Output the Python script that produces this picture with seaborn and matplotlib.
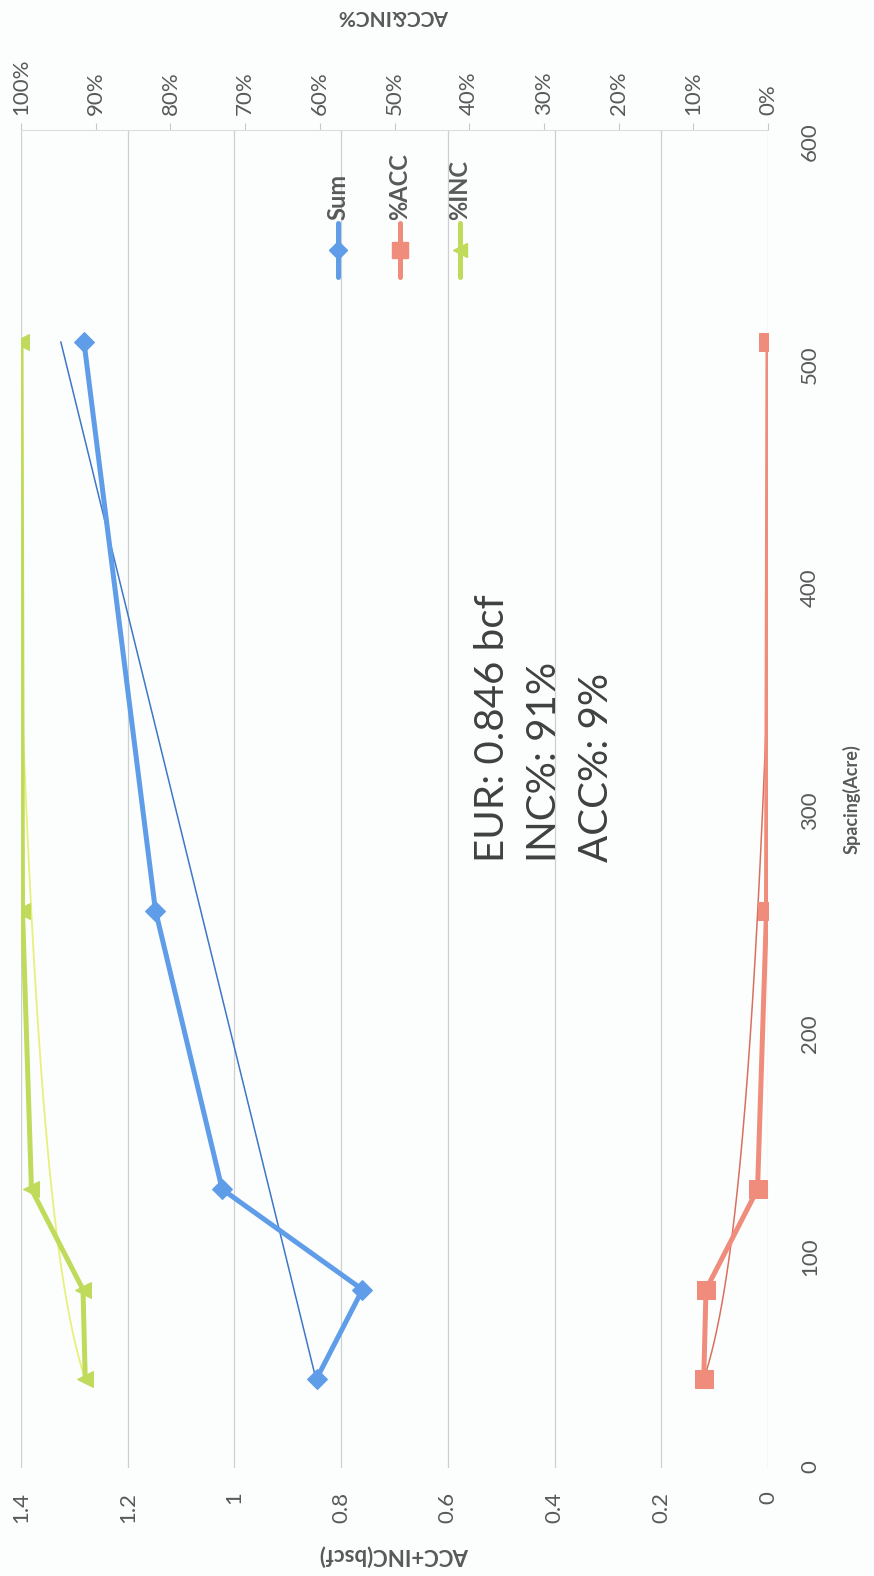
import numpy as np
import pandas as pd
import seaborn as sns
import matplotlib
import matplotlib.pyplot as plt
from matplotlib.lines import Line2D
from matplotlib.ticker import FuncFormatter, PercentFormatter

matplotlib.use("Agg")

# chart values (read from the scanned, rotated Excel chart)
spacing = [40, 80, 125, 250, 505]
eur_sum = [0.846, 0.76, 1.023, 1.148, 1.282]
pct_acc = [0.086, 0.083, 0.014, 0.002, 0.0]
pct_inc = [0.914, 0.917, 0.986, 0.998, 1.0]
bscf_ticks = [0, 0.2, 0.4, 0.6, 0.8, 1.0, 1.2, 1.4]
pct_ticks = [0, 0.1, 0.2, 0.3, 0.4, 0.5, 0.6, 0.7, 0.8, 0.9, 1.0]
spacing_ticks = [0, 100, 200, 300, 400, 500, 600]
note_lines = ["EUR: 0.846 bcf", "INC%: 91%", "ACC%: 9%"]

W, H = 874, 1576
BLUE = "#5f9de8"
BLUE_TREND = "#3d77c6"
RED = "#f08c7c"
RED_TREND = "#d9705f"
GREEN = "#c0da5c"
GREEN_TREND = "#e8f07c"
TEXT = "#595959"


def fx(px):
    return px / W


def fy(py):
    return 1 - py / H


def main():
    sns.set_style("white")
    plt.rcParams["font.family"] = ["Lato", "DejaVu Sans"]

    df = pd.DataFrame({"spacing": spacing, "Sum": eur_sum,
                       "%ACC": pct_acc, "%INC": pct_inc})

    fig = plt.figure(figsize=(W / 100, H / 100), dpi=100, facecolor="#fcfefe")
    ax = fig.add_axes([fx(21), fy(1468), fx(768) - fx(21), fy(130) - fy(1468)])
    ax.set_facecolor("none")
    ax2 = ax.twiny()

    # trendlines, fitted like Excel does (linear for Sum, log for the shares)
    grid = np.linspace(min(spacing), max(spacing), 300)
    b, a = np.polyfit(spacing, eur_sum, 1)
    sns.lineplot(x=a + b * grid, y=grid, orient="y", sort=False, estimator=None,
                 color=BLUE_TREND, lw=1.1, ax=ax)
    c1, c0 = np.polyfit(np.log(spacing), pct_acc, 1)
    sns.lineplot(x=c0 + c1 * np.log(grid), y=grid, orient="y", sort=False,
                 estimator=None, color=RED_TREND, lw=1.1, ax=ax2)
    d1, d0 = np.polyfit(np.log(spacing), pct_inc, 1)
    sns.lineplot(x=d0 + d1 * np.log(grid), y=grid, orient="y", sort=False,
                 estimator=None, color=GREEN_TREND, lw=1.3, ax=ax2)

    sns.lineplot(data=df, x="Sum", y="spacing", orient="y", sort=False,
                 estimator=None, color=BLUE, lw=3.6, marker="D", markersize=10,
                 markeredgecolor=BLUE, ax=ax)
    sns.lineplot(data=df, x="%ACC", y="spacing", orient="y", sort=False,
                 estimator=None, color=RED, lw=3.6, marker="s", markersize=13,
                 markeredgecolor=RED, ax=ax2)
    sns.lineplot(data=df, x="%INC", y="spacing", orient="y", sort=False,
                 estimator=None, color=GREEN, lw=3.6, marker="<", markersize=12,
                 markeredgecolor=GREEN, ax=ax2)

    # primary axis: bscf, drawn along the bottom, reversed
    ax.set_xlim(1.4, 0)
    ax.set_xticks(bscf_ticks)
    ax.xaxis.set_major_formatter(FuncFormatter(lambda v, p: "%g" % v))
    ax.set_ylim(0, 600)
    ax.set_yticks(spacing_ticks)
    ax.yaxis.tick_right()
    ax.yaxis.set_label_position("right")
    ax.tick_params(axis="x", labelrotation=90, length=0, pad=17,
                   labelsize=16, labelcolor=TEXT)
    ax.tick_params(axis="y", labelrotation=90, length=0, pad=23,
                   labelsize=16, labelcolor=TEXT)
    ax.grid(axis="x", color="#cfcfcf", lw=0.9)
    ax.grid(axis="y", visible=False)
    for s in ax.spines.values():
        s.set_visible(False)
    ax.set_xlabel("ACC+INC(bscf)", rotation=180, fontsize=16, fontweight="bold",
                  color=TEXT, labelpad=16)
    ax.set_ylabel("Spacing(Acre)", rotation=90, fontsize=13, fontweight="bold",
                  color=TEXT, labelpad=16)

    # secondary axis: percentages along the top, reversed
    ax2.set_xlim(1.0, 0)
    ax2.set_xticks(pct_ticks)
    ax2.xaxis.set_major_formatter(PercentFormatter(1.0, decimals=0))
    ax2.tick_params(axis="x", labelrotation=90, length=5, color="#c8c8c8",
                    pad=6, labelsize=16, labelcolor=TEXT)
    for name, s in ax2.spines.items():
        s.set_visible(name == "top")
    ax2.spines["top"].set_color("#dcdcdc")
    ax2.set_xlabel("ACC&INC%", rotation=180, fontsize=15, fontweight="bold",
                   color=TEXT, labelpad=26)

    # note in the middle of the plot
    for x_px, line in zip([493, 545, 596], note_lines):
        fig.text(fx(x_px), fy(862), line, rotation=90, ha="center", va="bottom",
                 fontsize=29, color="#404040")

    # legend, drawn rotated like the scan
    entries = [("Sum", BLUE, "D", 9), ("%ACC", RED, "s", 11), ("%INC", GREEN, "<", 10)]
    for x_px, (name, col, mk, ms) in zip([338, 400, 460], entries):
        fig.add_artist(Line2D([fx(x_px), fx(x_px)], [fy(277), fy(223)],
                              transform=fig.transFigure, color=col, lw=3.6))
        fig.add_artist(Line2D([fx(x_px)], [fy(250)], transform=fig.transFigure,
                              color=col, marker=mk, markersize=ms, lw=0,
                              markeredgecolor=col))
        fig.text(fx(x_px), fy(220), name, rotation=90, ha="center", va="bottom",
                 fontsize=17, fontweight="bold", color=TEXT)

    fig.savefig("out.png", dpi=100, facecolor=fig.get_facecolor())


if __name__ == "__main__":
    main()
